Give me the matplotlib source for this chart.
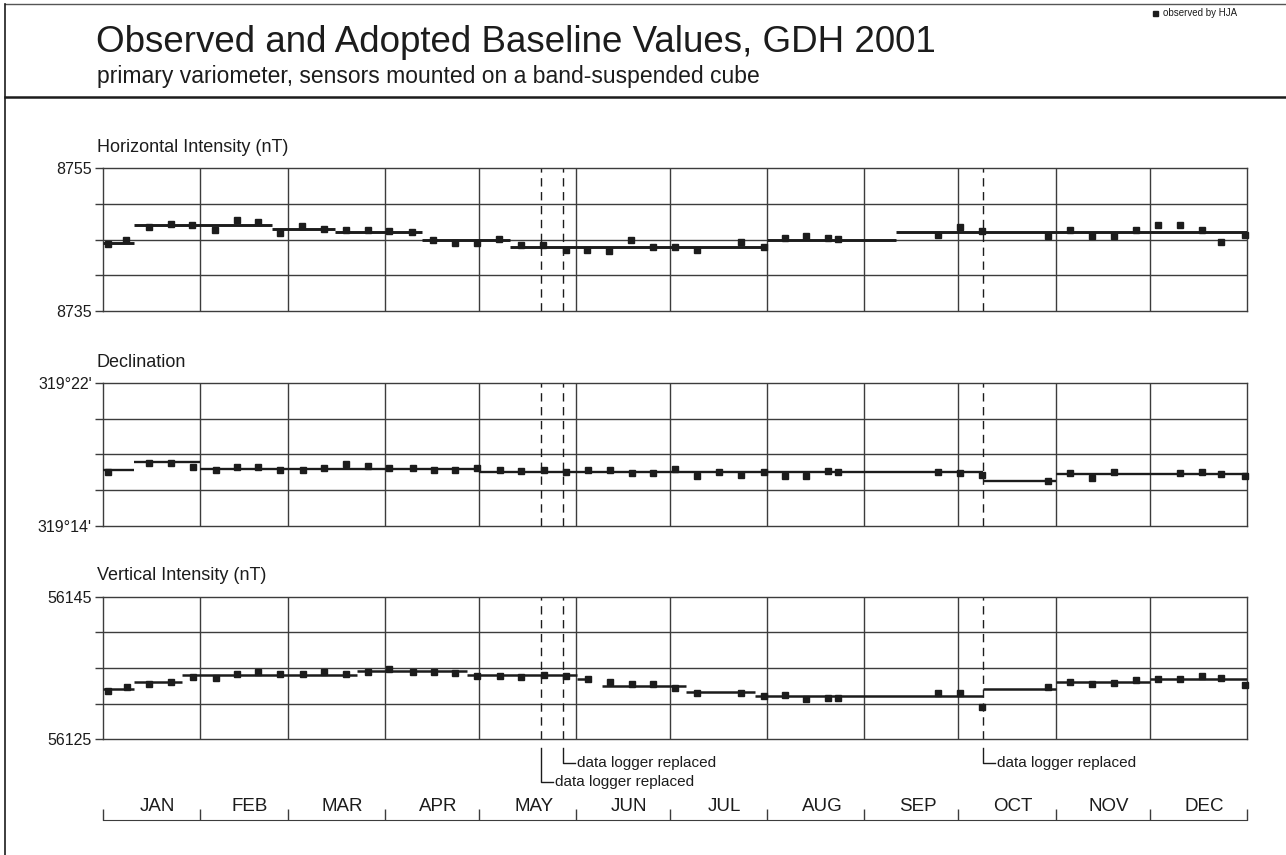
import matplotlib
matplotlib.use("Agg")
import matplotlib.pyplot as plt
from matplotlib.lines import Line2D

plt.rcParams['font.family'] = ['Liberation Sans', 'DejaVu Sans']

W, H = 1286, 855

# month layout (day of year, 2001)
months = ['JAN', 'FEB', 'MAR', 'APR', 'MAY', 'JUN', 'JUL', 'AUG', 'SEP', 'OCT', 'NOV', 'DEC']
month_start = [0, 31, 59, 90, 120, 151, 181, 212, 243, 273, 304, 334, 365]
logger_days = [140, 147, 281]
logger_level = [2, 1, 1]

# horizontal intensity (nT)
h_days = [1.6, 7.4, 14.7, 21.8, 28.5, 35.7, 42.9, 49.6, 56.5, 63.6, 70.6, 77.5, 84.7,
          91.4, 98.7, 105.3, 112.4, 119.3, 126.5, 133.4, 140.4, 147.8, 154.4, 161.5,
          168.6, 175.6, 182.6, 189.6, 203.7, 211.0, 217.7, 224.4, 231.3, 234.5, 266.5,
          273.5, 280.5, 301.6, 308.6, 315.6, 322.7, 329.7, 336.7, 343.7, 350.8, 356.8, 364.5]
h_obs = [8744.4, 8745.0, 8746.8, 8747.2, 8747.0, 8746.4, 8747.8, 8747.5, 8746.0, 8746.9,
         8746.5, 8746.3, 8746.4, 8746.2, 8746.1, 8744.9, 8744.5, 8744.6, 8745.1, 8744.3,
         8744.3, 8743.5, 8743.5, 8743.4, 8745.0, 8744.0, 8744.0, 8743.5, 8744.7, 8744.0,
         8745.3, 8745.5, 8745.3, 8745.1, 8745.6, 8746.8, 8746.2, 8745.5, 8746.3, 8745.5,
         8745.5, 8746.4, 8747.0, 8747.0, 8746.4, 8744.7, 8745.7]
h_seg_start = [0, 10, 54, 74, 102, 130, 212, 253]
h_seg_end = [10, 54, 74, 102, 130, 212, 253, 365]
h_seg_val = [8744.5, 8747.1, 8746.5, 8746.1, 8745.0, 8744.0, 8745.0, 8746.05]

# declination (arc minutes above 319 deg)
d_days = [1.8, 14.9, 21.9, 28.7, 36.0, 42.9, 49.6, 56.7, 63.8, 70.7, 77.7, 84.8, 91.5,
          98.9, 105.6, 112.5, 119.5, 126.7, 133.6, 140.7, 147.9, 154.7, 161.7, 168.8,
          175.7, 182.5, 189.5, 196.5, 203.5, 210.9, 217.7, 224.3, 231.3, 234.5, 266.6,
          273.4, 280.5, 301.5, 308.5, 315.6, 322.6, 343.6, 350.6, 356.7, 364.4]
d_obs = [17.03, 17.50, 17.50, 17.31, 17.15, 17.28, 17.28, 17.15, 17.15, 17.22, 17.46,
         17.37, 17.22, 17.22, 17.15, 17.15, 17.22, 17.13, 17.05, 17.13, 17.00, 17.13,
         17.13, 16.94, 16.94, 17.20, 16.81, 17.00, 16.85, 17.00, 16.81, 16.81, 17.05,
         17.00, 17.00, 16.94, 16.85, 16.53, 16.94, 16.66, 17.03, 16.94, 17.03, 16.90, 16.81]
d_seg_start = [0, 10, 31, 120, 281, 304]
d_seg_end = [10, 31, 120, 281, 304, 365]
d_seg_val = [17.13, 17.58, 17.20, 17.00, 16.49, 16.90]

# vertical intensity (nT)
z_days = [1.8, 7.6, 14.9, 21.9, 28.7, 36.0, 42.9, 49.6, 56.7, 63.8, 70.7, 77.7, 84.8,
          91.5, 98.9, 105.6, 112.5, 119.5, 126.7, 133.6, 140.7, 147.9, 154.7, 161.7,
          168.8, 175.7, 182.5, 189.5, 203.5, 210.9, 217.7, 224.3, 231.3, 234.5, 266.6,
          273.4, 280.5, 301.5, 308.5, 315.6, 322.6, 329.6, 336.6, 343.6, 350.6, 356.7, 364.4]
z_obs = [56131.8, 56132.3, 56132.7, 56133.1, 56133.7, 56133.6, 56134.2, 56134.5, 56134.1,
         56134.1, 56134.5, 56134.1, 56134.5, 56134.9, 56134.5, 56134.5, 56134.35, 56133.9,
         56133.9, 56133.7, 56134.0, 56133.9, 56133.5, 56133.0, 56132.7, 56132.7, 56132.15,
         56131.55, 56131.55, 56131.1, 56131.2, 56130.7, 56130.8, 56130.8, 56131.45,
         56131.55, 56129.6, 56132.3, 56133.1, 56132.7, 56132.95, 56133.3, 56133.5,
         56133.5, 56133.9, 56133.65, 56132.6]
z_seg_start = [0, 10, 25.4, 81.2, 116.2, 151.3, 159.3, 186, 208, 281, 304, 334]
z_seg_end = [10, 25.4, 81.2, 116.2, 151.3, 155.5, 186, 208, 281, 304, 334, 365]
z_seg_val = [56132.1, 56133.05, 56134.05, 56134.6, 56134.0, 56133.5, 56132.5, 56131.6,
             56131.1, 56132.1, 56133.0, 56133.5]

panels = [
    ("Horizontal Intensity (nT)", 8735, 8755, ["8735", "8755"], h_days, h_obs,
     h_seg_start, h_seg_end, h_seg_val, 2.1),
    ("Declination", 14, 22, ["319\u00b014'", "319\u00b022'"], d_days, d_obs,
     d_seg_start, d_seg_end, d_seg_val, 1.7),
    ("Vertical Intensity (nT)", 56125, 56145, ["56125", "56145"], z_days, z_obs,
     z_seg_start, z_seg_end, z_seg_val, 1.8),
]

ink = '#1c1c1c'
grid_c = '#3c3c3c'


def fx(x):
    return x / W


def fy(y):
    return 1 - y / H


fig = plt.figure(figsize=(W / 100, H / 100), dpi=100)
fig.patch.set_facecolor('white')

# page frame and header rule
fig.add_artist(Line2D([fx(5), 1], [fy(4), fy(4)], color='#555555', lw=1.0))
fig.add_artist(Line2D([fx(5), fx(5)], [fy(4), 0], color=ink, lw=1.2))
fig.add_artist(Line2D([fx(5), 1], [fy(97), fy(97)], color=ink, lw=1.8))

fig.text(fx(96), fy(42), "Observed and Adopted Baseline Values, GDH 2001",
         fontsize=26.5, color=ink, va='center', ha='left')
fig.text(fx(97), fy(77), "primary variometer, sensors mounted on a band-suspended cube",
         fontsize=16.5, color=ink, va='center', ha='left')
fig.add_artist(Line2D([fx(1155)], [fy(13)], marker='s', markersize=3.6,
                      color=ink, lw=0))
fig.text(fx(1163), fy(13), "observed by HJA", fontsize=7, color=ink,
         va='center', ha='left')

ax_left, ax_right = 102.7, 1246.7
tops = [168.3, 383.0, 596.7]
ax_h = 142.7
title_y = [147, 362, 575]

axes = []
for (name, lo, hi, labels, days, obs, s0, s1, sv, lw), top, ty in zip(panels, tops, title_y):
    ax = fig.add_axes([fx(ax_left), fy(top + ax_h), (ax_right - ax_left) / W, ax_h / H])
    ax.set_xlim(0, 365)
    ax.set_ylim(lo, hi)
    step = (hi - lo) / 4
    levels = [lo + i * step for i in range(5)]
    ax.set_yticks(levels)
    ax.set_yticklabels([labels[0], "", "", "", labels[1]])
    ax.tick_params(axis='y', length=6, width=1.0, color=grid_c, pad=2,
                   labelsize=11.5, labelcolor=ink)
    ax.set_xticks([])
    for lv in levels[1:-1]:
        ax.axhline(lv, color=grid_c, lw=1.0, zorder=1)
    for d in month_start[1:-1]:
        ax.axvline(d, color=grid_c, lw=1.0, zorder=1)
    for sp in ax.spines.values():
        sp.set_color(grid_c)
        sp.set_linewidth(1.0)
    for d in logger_days:
        ax.axvline(d, color=ink, lw=1.0, ls=(0, (6, 4)), zorder=2)
    ax.hlines(sv, s0, s1, color=ink, lw=lw, zorder=3)
    ax.plot(days, obs, 's', color=ink, markersize=5, zorder=4, clip_on=False)
    fig.text(fx(97), fy(ty), name, fontsize=13, color=ink, va='center', ha='left')
    axes.append(ax)

# logger replacement notes below the last panel
ax = axes[-1]
trans = ax.get_xaxis_transform()
for d, lvl in zip(logger_days, logger_level):
    y_end = 763 if lvl == 1 else 782
    y0 = -(748 - (tops[-1] + ax_h)) / ax_h
    y1 = -(y_end - (tops[-1] + ax_h)) / ax_h
    ax.plot([d, d, d + 3.6], [y0, y1, y1], color=ink, lw=1.0, transform=trans,
            clip_on=False)
    ax.text(d + 4.3, y1, "data logger replaced", fontsize=11, color=ink,
            va='center', ha='left', transform=trans)

# month strip
axm = fig.add_axes([fx(ax_left), fy(820), (ax_right - ax_left) / W, 20 / H])
axm.set_xlim(0, 365)
axm.set_ylim(0, 1)
for sp in ['top', 'left', 'right']:
    axm.spines[sp].set_visible(False)
axm.spines['bottom'].set_color(grid_c)
axm.set_yticks([])
axm.set_xticks(month_start)
axm.set_xticklabels([])
axm.tick_params(axis='x', direction='in', length=8, width=1.0, color=grid_c)
axm.patch.set_alpha(0)
for name, a, b in zip(months, month_start[:-1], month_start[1:]):
    axm.text((a + b) / 2 + 2, 0.66, name, fontsize=13.5, color=ink,
             ha='center', va='center')

fig.savefig("out.png", dpi=100)
